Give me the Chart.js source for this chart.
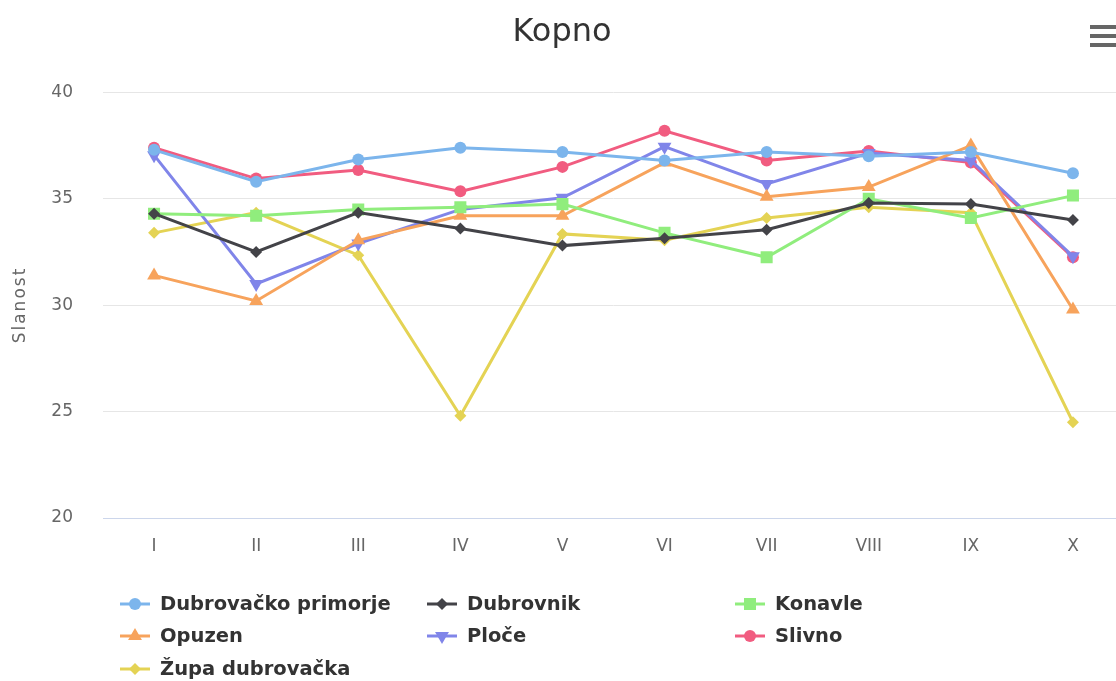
<!DOCTYPE html>
<html>
<head>
<meta charset="utf-8">
<title>Kopno</title>
<script src="https://cdn.jsdelivr.net/npm/chart.js@4/dist/chart.umd.min.js"></script>
<style>
  html, body { margin: 0; padding: 0; background: #fff; overflow: hidden; }
  #wrap { width: 1124px; height: 681px; position: relative; }
</style>
</head>
<body>
<div id="wrap"><canvas id="myChart"></canvas></div>
<script>
// podaci
var months = ['I', 'II', 'III', 'IV', 'V', 'VI', 'VII', 'VIII', 'IX', 'X'];
var yTicks = [20, 25, 30, 35, 40];

var dubrovackoPrimorje = [37.3, 35.8, 36.85, 37.4, 37.2, 36.8, 37.2, 37.0, 37.2, 36.2];
var dubrovnik = [34.3, 32.5, 34.35, 33.6, 32.8, 33.15, 33.55, 34.8, 34.75, 34.0];
var konavle = [34.3, 34.2, 34.5, 34.6, 34.75, 33.4, 32.25, 35.0, 34.1, 35.15];
var opuzen = [31.4, 30.2, 33.05, 34.2, 34.2, 36.7, 35.1, 35.55, 37.5, 29.8];
var ploce = [37.05, 31.0, 32.9, 34.5, 35.05, 37.45, 35.7, 37.15, 36.8, 32.3];
var slivno = [37.4, 35.95, 36.35, 35.35, 36.5, 38.2, 36.8, 37.25, 36.7, 32.25];
var zupaDubrovacka = [33.4, 34.35, 32.35, 24.8, 33.35, 33.05, 34.1, 34.6, 34.35, 24.5];

var font = '"DejaVu Sans", Verdana, sans-serif';

function serie(label, data, color, style, radius, rotation) {
    return {
        label: label,
        data: data,
        borderColor: color,
        backgroundColor: color,
        borderWidth: 3,
        pointStyle: style,
        pointRadius: radius,
        pointRotation: rotation || 0,
        pointBackgroundColor: color,
        pointBorderColor: color,
        pointBorderWidth: 0,
        tension: 0
    };
}

var datasets = [
    serie('Dubrovačko primorje', dubrovackoPrimorje, '#7cb5ec', 'circle', 6),
    serie('Dubrovnik', dubrovnik, '#434348', 'rectRot', 6),
    serie('Konavle', konavle, '#90ed7d', 'rect', 8.5),
    serie('Opuzen', opuzen, '#f7a35c', 'triangle', 8),
    serie('Ploče', ploce, '#8085e9', 'triangle', 8, 180),
    serie('Slivno', slivno, '#f15c80', 'circle', 6),
    serie('Župa dubrovačka', zupaDubrovacka, '#e4d354', 'rectRot', 6)
];

// legenda u tri stupca, naslov osi y i ikona izbornika
var extrasPlugin = {
    id: 'dodaciKopno',
    afterDraw: function (chart) {
        var ctx = chart.ctx;
        var cols = [120, 427, 735];
        var rows = [604, 636, 669];
        ctx.save();
        chart.data.datasets.forEach(function (ds, i) {
            var x = cols[i % 3];
            var y = rows[Math.floor(i / 3)];
            ctx.strokeStyle = ds.borderColor;
            ctx.fillStyle = ds.borderColor;
            ctx.lineWidth = 3;
            ctx.beginPath();
            ctx.moveTo(x, y);
            ctx.lineTo(x + 30, y);
            ctx.stroke();
            Chart.helpers.drawPoint(ctx, {
                pointStyle: ds.pointStyle,
                radius: ds.pointRadius,
                rotation: ds.pointRotation,
                borderWidth: 0
            }, x + 15, y);
            ctx.fillStyle = '#333333';
            ctx.font = 'bold 19.5px ' + font;
            ctx.textBaseline = 'middle';
            ctx.textAlign = 'left';
            ctx.fillText(ds.label, x + 40, y + 1);
        });

        // naslov osi y
        ctx.save();
        ctx.translate(21, 305);
        ctx.rotate(-Math.PI / 2);
        ctx.fillStyle = '#666666';
        ctx.font = '17px ' + font;
        if ('letterSpacing' in ctx) ctx.letterSpacing = '2px';
        ctx.textAlign = 'center';
        ctx.textBaseline = 'middle';
        ctx.fillText('Slanost', 0, 0);
        ctx.restore();

        // hamburger
        ctx.fillStyle = '#666666';
        [25, 34, 43].forEach(function (yy) {
            ctx.fillRect(1090, yy, 30, 4);
        });
        ctx.restore();
    }
};

var ctx = document.getElementById('myChart');
var myChart = new Chart(ctx, {
    type: 'line',
    data: {
        labels: months,
        datasets: datasets
    },
    options: {
        responsive: true,
        maintainAspectRatio: false,
        animation: false,
        layout: {
            autoPadding: false,
            padding: { left: 0, right: 0, top: 0, bottom: 118 }
        },
        plugins: {
            legend: { display: false },
            tooltip: { enabled: false },
            title: {
                display: true,
                text: 'Kopno',
                color: '#333333',
                font: { family: font, size: 32, weight: 'normal' },
                padding: { top: 13, bottom: 41 }
            }
        },
        scales: {
            x: {
                offset: true,
                grid: {
                    display: true,
                    drawOnChartArea: false,
                    drawTicks: true,
                    tickLength: 18,
                    tickColor: 'rgba(0,0,0,0)'
                },
                border: { display: true, color: '#ccd6eb', width: 1 },
                ticks: {
                    color: '#666666',
                    font: { family: font, size: 17 },
                    padding: 0,
                    maxRotation: 0
                },
                afterFit: function (scale) { scale.height = 45; }
            },
            y: {
                min: 20,
                max: 40,
                afterBuildTicks: function (scale) {
                    scale.ticks = yTicks.map(function (v) { return { value: v }; });
                },
                grid: { color: '#e6e6e6', drawTicks: false },
                border: { display: false },
                ticks: {
                    color: '#666666',
                    font: { family: font, size: 17 },
                    padding: 30
                },
                afterFit: function (scale) { scale.width = 103; }
            }
        }
    },
    plugins: [extrasPlugin]
});
</script>
</body>
</html>
